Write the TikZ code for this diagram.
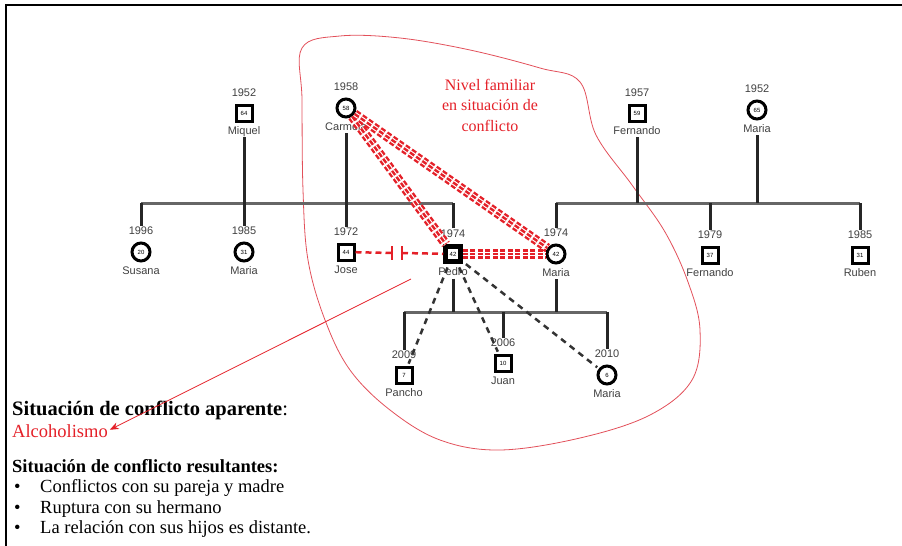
\documentclass[tikz,border=0pt]{standalone}
\usepackage{fontspec}
\setmainfont{Liberation Serif}
\setsansfont{Liberation Sans}
\usetikzlibrary{positioning,calc,arrows.meta}
\definecolor{conflictred}{RGB}{228,32,40}
\definecolor{bubblered}{RGB}{226,80,90}

\tikzset{
  male/.style={draw, rectangle, minimum size=16pt, line width=3pt, fill=white, inner sep=0pt, font=\sffamily\fontsize{6}{6}\selectfont},
  female/.style={male, circle, minimum size=18pt},
  patient/.style={male, line width=4.5pt, minimum size=15pt},
  year/.style={font=\sffamily\fontsize{11}{11}\selectfont, text=black!75, inner sep=1pt, text height=8pt, text depth=2pt},
  famline/.style={line width=3pt, black!85},
  sibline/.style={line width=3pt, black!60},
  distant/.style={line width=2.5pt, black!80, dash pattern=on 6pt off 5pt, shorten <=4pt, shorten >=2pt},
  conflict/.style={draw=conflictred, line width=2.4pt, double=white, double distance=4.6pt, dash pattern=on 5pt off 2.5pt},
  conflictmid/.style={draw=conflictred, line width=2.4pt, dash pattern=on 5pt off 2.5pt},
  cutoff/.style={draw=conflictred, line width=2.5pt, dash pattern=on 6pt off 4pt},
  notes/.style={anchor=base west, inner sep=0pt, font=\fontsize{18.5}{21}\selectfont},
  heading/.style={notes, font=\bfseries\fontsize{20.5}{23}\selectfont}
}

\begin{document}
\begin{tikzpicture}[x=1pt, y=-1pt]
  \useasboundingbox (0,0) rectangle (902,546);
  \draw[line width=2pt] (6,546) -- (6,5) -- (902,5);

  % conflict area
  \draw[bubblered, line width=0.8pt] plot[smooth cycle, tension=0.6] coordinates {
    (302,48) (340,36) (400,38) (470,50) (540,68) (580,82) (596,135) (632,185)
    (665,232) (688,282) (700,330) (692,380) (650,415) (580,438) (500,450)
    (440,440) (390,410) (350,370) (325,320) (308,260) (303,190) (302,100)};
  \node[text=conflictred, align=center, font=\fontsize{16}{20.5}\selectfont] (nivel) at (490,105)
    {Nivel familiar\\en situación de\\conflicto};

  % persons
  \foreach \id/\x/\y/\kind/\yr/\age/\nm in {
      miquel/244/113/male/1952/64/Miquel,
      carmela/346/108/female/1958/58/Carmela,
      fernandoP/637/113/male/1957/59/Fernando,
      mariaM/757/110/female/1952/65/Maria,
      susana/141/252/female/1996/20/Susana,
      mariaA/244/252/female/1985/31/Maria,
      jose/346/252/male/1972/44/Jose,
      pedro/453/254/patient/1974/42/Pedro,
      maria/556/254/female/1974/42/Maria,
      fernando/710/255/male/1979/37/Fernando,
      ruben/860/255/male/1985/31/Ruben,
      pancho/404/375/male/2009/7/Pancho,
      juan/503/363/male/2006/10/Juan,
      mariaH/607/375/female/2010/6/Maria} {
    \node[\kind] (\id) at (\x,\y) {\age};
    \node[year, above=3.5pt of \id] (\id-y) {\yr};
    \node[year, below=2.5pt of \id] (\id-n) {\nm};
  }

  % family lines
  \coordinate (barL) at (0,203);
  \coordinate (barR) at (0,203);
  \coordinate (barC) at (0,312);
  \draw[sibline] (susana-y.north |- barL) -- (pedro-y.north |- barL);
  \draw[sibline] (maria-y.north |- barR) -- (ruben-y.north |- barR);
  \draw[sibline] (pancho-y.north |- barC) -- (mariaH-y.north |- barC);
  \foreach \k in {susana,mariaA,jose,pedro}
    \draw[famline] (\k-y.north) -- (\k-y.north |- barL);
  \foreach \k in {maria,fernando,ruben}
    \draw[famline] (\k-y.north) -- (\k-y.north |- barR);
  \foreach \k in {pancho,juan,mariaH}
    \draw[famline] (\k-y.north) -- (\k-y.north |- barC);
  \foreach \p in {miquel,carmela}
    \draw[famline] (\p-n.south) -- (\p-n.south |- barL);
  \foreach \p in {fernandoP,mariaM}
    \draw[famline] (\p-n.south) -- (\p-n.south |- barR);
  \foreach \p in {pedro,maria}
    \draw[famline] (\p-n.south) -- (\p-n.south |- barC);

  % distant relations
  \foreach \k in {pancho,juan,mariaH}
    \draw[distant] (pedro) -- (\k);

  % conflict relations
  \foreach \a/\b in {carmela/pedro, carmela/maria, pedro/maria} {
    \draw[conflict] (\a) -- (\b);
    \draw[conflictmid] (\a) -- (\b);
  }

  % cut-off
  \coordinate (cutL) at (392,253);
  \coordinate (cutR) at (402,253);
  \draw[cutoff] (jose) -- (cutL);
  \draw[cutoff] (cutR) -- (pedro);
  \foreach \c in {cutL,cutR}
    \draw[conflictred, line width=2.2pt] ($(\c)+(0,-7)$) -- ($(\c)+(0,7)$);

  % notes
  \node[heading] (aparente) at (12,415) {Situación de conflicto aparente\textmd{:}};
  \node[notes, text=conflictred] (alcohol) at (12,437) {Alcoholismo};
  \node[notes, font=\bfseries\fontsize{18.5}{21}\selectfont] (resultantes) at (12,472) {Situación de conflicto resultantes:};
  \foreach \t [count=\i] in {Conflictos con su pareja y madre, Ruptura con su hermano, La relación con sus hijos es distante.} {
    \node[notes] (bul\i) at (14,472+20.5*\i) {•};
    \node[notes] (res\i) at (40,472+20.5*\i) {\t};
  }

  \coordinate (arrowtail) at (411,279);
  \draw[conflictred, line width=0.8pt, -{Stealth[length=9pt,width=7pt]}, shorten >=2pt] (arrowtail) -- (alcohol.east);
\end{tikzpicture}
\end{document}
